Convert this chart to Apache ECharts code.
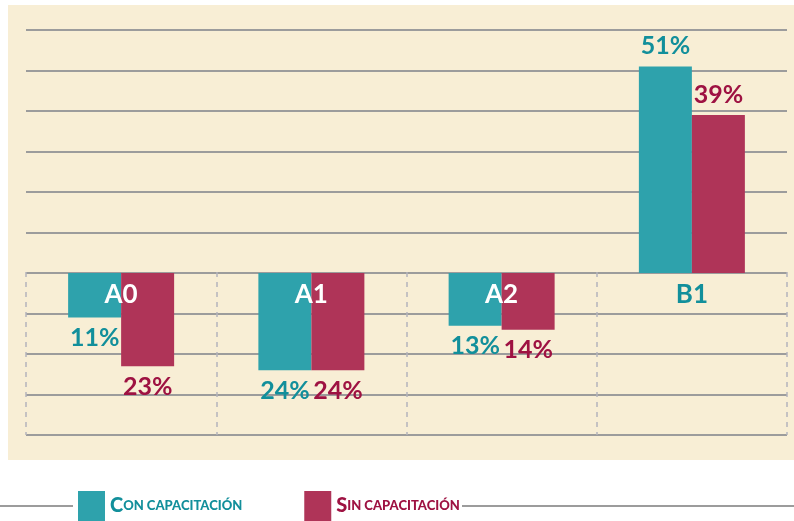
<!DOCTYPE html>
<html>
<head>
<meta charset="utf-8">
<script src="https://cdn.jsdelivr.net/npm/echarts@6/dist/echarts.min.js"></script>
<style>
  html, body { margin: 0; padding: 0; background: #fff; }
  #main { width: 794px; height: 521px; }
</style>
</head>
<body>
<div id="main"></div>
<script>
// datos
var categorias = ['A0', 'A1', 'A2', 'B1'];
var conCapacitacion = [-11, -24, -13, 51];
var sinCapacitacion = [-23, -24, -14, 39];
var nombres = ['Con capacitación', 'Sin capacitación'];

var FONT = 'Lato, "DejaVu Sans Condensed", sans-serif';
var TEAL = '#2ea2ac', TEAL_TXT = '#128f9b';
var RED = '#af3458', RED_TXT = '#9e1242';

var myChart = echarts.init(document.getElementById('main'));

function serie(nombre, valores, color, colorTxt) {
    return {
        name: nombre,
        type: 'bar',
        xAxisIndex: 0,
        yAxisIndex: 0,
        barWidth: 53,
        barGap: '0%',
        itemStyle: { color: color },
        label: {
            show: true,
            position: 'outside',
            distance: 8,
            color: colorTxt,
            fontFamily: FONT,
            fontWeight: 'bold',
            fontSize: 25,
            formatter: function (p) { return Math.abs(p.value) + '%'; }
        },
        data: valores
    };
}

// versalitas para la leyenda
function versalitas(nombre) {
    var k = nombre.indexOf('Con') === 0 ? 'c' : 's';
    return '{' + k + 'G|' + nombre.charAt(0).toUpperCase() + '}{' + k + 'P|' + nombre.slice(1).toUpperCase() + '}';
}

myChart.setOption({
    backgroundColor: '#fff',
    animation: false,
    graphic: [
        { type: 'rect', z: -10, shape: { x: 8, y: 5, width: 786, height: 455 }, style: { fill: '#f8eed5' } },
        { type: 'line', shape: { x1: 0, y1: 506, x2: 73, y2: 506 }, style: { stroke: '#9c9c9c', lineWidth: 2 } },
        { type: 'line', shape: { x1: 462, y1: 506, x2: 794, y2: 506 }, style: { stroke: '#9c9c9c', lineWidth: 2 } }
    ],
    grid: [
        { left: 26, right: 7, top: 30, bottom: 86 },
        { left: 26, right: 7, top: 272, bottom: 86 }
    ],
    legend: {
        left: 78,
        top: 491,
        padding: 0,
        icon: 'rect',
        itemWidth: 27,
        itemHeight: 30,
        itemGap: 62,
        data: nombres,
        formatter: versalitas,
        textStyle: {
            fontFamily: FONT,
            fontWeight: 'bold',
            rich: {
                cG: { fontFamily: FONT, fontWeight: 900, fontSize: 20, color: TEAL_TXT },
                cP: { fontFamily: FONT, fontWeight: 900, fontSize: 13, color: TEAL_TXT },
                sG: { fontFamily: FONT, fontWeight: 900, fontSize: 20, color: RED_TXT },
                sP: { fontFamily: FONT, fontWeight: 900, fontSize: 13, color: RED_TXT }
            }
        }
    },
    xAxis: [
        {
            type: 'category',
            gridIndex: 0,
            data: categorias,
            axisLine: { show: false },
            axisTick: { show: false },
            axisLabel: { show: false }
        },
        {
            // eje de categorías sobre la línea de cero, con las líneas punteadas debajo
            type: 'category',
            gridIndex: 1,
            position: 'top',
            z: 10,
            data: categorias.map(function (c, i) {
                return { value: c, textStyle: { color: i === 3 ? TEAL_TXT : '#ffffff' } };
            }),
            axisLine: { show: false },
            axisTick: { show: false },
            axisLabel: {
                inside: true,
                margin: 10,
                fontFamily: FONT,
                fontWeight: 'bold',
                fontSize: 26
            },
            splitLine: {
                show: true,
                interval: 0,
                lineStyle: { color: '#b4b4bc', width: 1.5, type: [5, 5] }
            }
        }
    ],
    yAxis: [
        {
            type: 'value',
            gridIndex: 0,
            min: -40,
            max: 60,
            interval: 10,
            axisLabel: { show: false },
            axisLine: { show: false },
            axisTick: { show: false },
            splitLine: { lineStyle: { color: '#9c9c9c', width: 2 } }
        },
        { type: 'value', gridIndex: 1, show: false }
    ],
    series: [
        serie(nombres[0], conCapacitacion, TEAL, TEAL_TXT),
        serie(nombres[1], sinCapacitacion, RED, RED_TXT)
    ]
});
</script>
</body>
</html>
